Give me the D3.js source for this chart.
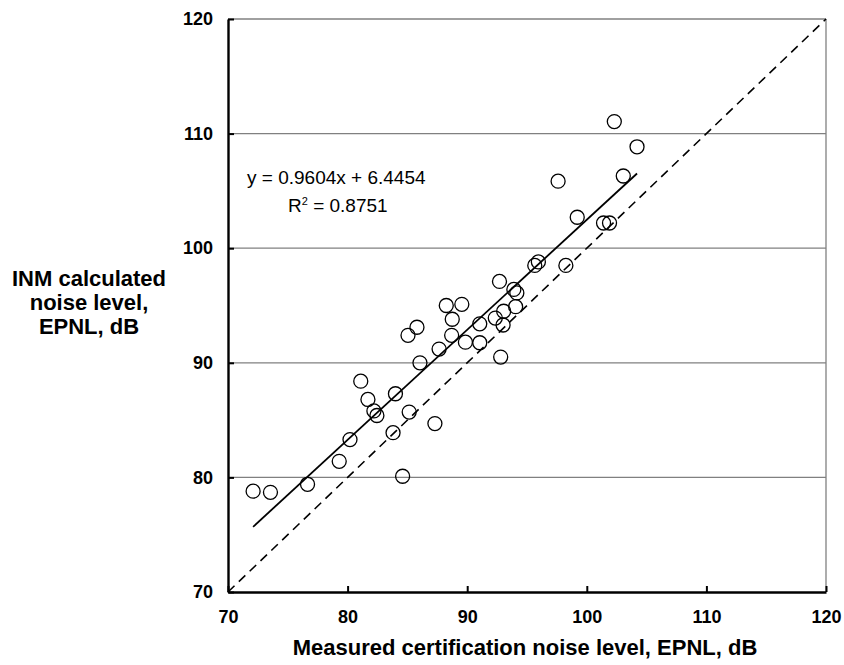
<!DOCTYPE html>
<html>
<head>
<meta charset="utf-8">
<script src="https://cdn.jsdelivr.net/npm/d3@7"></script>
<style>
  html, body { margin: 0; padding: 0; background: #fff; }
  svg { display: block; }
  text { font-family: "Liberation Sans", Arial, sans-serif; }
</style>
</head>
<body>
<svg id="chart" width="844" height="665"></svg>
<script>
// Measured certification EPNL (dB) vs INM calculated EPNL (dB)
const measured = [72.1, 73.55, 76.65, 79.3, 80.2, 81.1, 81.7, 82.2, 82.45, 83.8,
  84.0, 84.6, 85.15, 87.3, 85.05, 85.8, 86.05, 87.65, 88.25, 89.55,
  88.75, 88.7, 89.85, 91.05, 91.05, 92.7, 92.35, 93.05, 93.0, 92.8,
  93.9, 94.15, 94.05, 95.65, 95.95, 98.25, 97.6, 99.2, 101.4, 101.9,
  102.3, 103.05, 104.2];
const calculated = [78.8, 78.7, 79.4, 81.4, 83.3, 88.4, 86.8, 85.8, 85.4, 83.9,
  87.3, 80.1, 85.7, 84.7, 92.4, 93.1, 90.0, 91.2, 95.0, 95.1,
  93.8, 92.4, 91.8, 93.4, 91.75, 97.1, 93.9, 94.5, 93.3, 90.5,
  96.4, 96.1, 94.9, 98.5, 98.8, 98.5, 105.85, 102.7, 102.2, 102.2,
  111.05, 106.3, 108.85];

// Linear fit reported for the data
const slope = 0.9604;
const intercept = 6.4454;
const rSquared = "0.8751";

const xTicks = [70, 80, 90, 100, 110, 120];
const yTicks = [70, 80, 90, 100, 110, 120];
const domain = [70, 120];

const margin = { top: 19, right: 18, bottom: 73, left: 228 };
const W = 844, H = 665;
const svg = d3.select("#chart");

const x = d3.scaleLinear().domain(domain).range([margin.left, W - margin.right]);
const y = d3.scaleLinear().domain(domain).range([H - margin.bottom, margin.top]);

// horizontal gridlines + frame
const grid = svg.append("g");
grid.selectAll("line.h")
  .data(yTicks.filter(d => d > domain[0]))
  .join("line")
  .attr("x1", x(domain[0])).attr("x2", x(domain[1]))
  .attr("y1", d => y(d)).attr("y2", d => y(d))
  .attr("stroke", "#808080").attr("stroke-width", 1.3);
grid.append("line")
  .attr("x1", x(domain[1])).attr("x2", x(domain[1]))
  .attr("y1", y(domain[0])).attr("y2", y(domain[1]))
  .attr("stroke", "#808080").attr("stroke-width", 1.3);

// 1:1 reference line
svg.append("line")
  .attr("x1", x(70)).attr("y1", y(70))
  .attr("x2", x(120)).attr("y2", y(120))
  .attr("stroke", "#000").attr("stroke-width", 1.6)
  .attr("stroke-dasharray", "9,6");

// regression line over the range of measured values
const xMin = d3.min(measured), xMax = d3.max(measured);
svg.append("line")
  .attr("x1", x(xMin)).attr("y1", y(slope * xMin + intercept))
  .attr("x2", x(xMax)).attr("y2", y(slope * xMax + intercept))
  .attr("stroke", "#000").attr("stroke-width", 1.8);

// data points
svg.append("g").selectAll("circle")
  .data(measured.map((m, i) => [m, calculated[i]]))
  .join("circle")
  .attr("cx", d => x(d[0])).attr("cy", d => y(d[1]))
  .attr("r", 7)
  .attr("fill", "none").attr("stroke", "#000").attr("stroke-width", 1.3);

// axes (ticks pointing inward)
const xAxis = d3.axisBottom(x).tickValues(xTicks).tickSizeInner(-6).tickSizeOuter(0).tickPadding(18);
const yAxis = d3.axisLeft(y).tickValues(yTicks).tickSizeInner(-6).tickSizeOuter(0).tickPadding(15);

const gx = svg.append("g").attr("transform", `translate(0,${y(domain[0])})`).call(xAxis);
const gy = svg.append("g").attr("transform", `translate(${x(domain[0])},0)`).call(yAxis);
[gx, gy].forEach(g => {
  g.select(".domain").attr("stroke", "#000").attr("stroke-width", 2.4);
  g.selectAll(".tick line").attr("stroke", "#000").attr("stroke-width", 2);
  g.selectAll(".tick text")
    .attr("fill", "#000")
    .attr("font-size", 18)
    .attr("font-weight", "bold")
    .attr("font-family", "'Liberation Sans', Arial, sans-serif");
});
gx.selectAll(".tick text").attr("dy", "0.71em");

// axis titles
svg.append("text")
  .attr("x", 525)
  .attr("y", 655)
  .attr("text-anchor", "middle")
  .attr("font-size", 22).attr("font-weight", "bold")
  .text("Measured certification noise level, EPNL, dB");

const yTitle = svg.append("text")
  .attr("text-anchor", "middle")
  .attr("font-size", 22).attr("font-weight", "bold");
["INM calculated", "noise level,", "EPNL, dB"].forEach((s, i) => {
  yTitle.append("tspan").attr("x", 89).attr("y", 286 + i * 24).text(s);
});

// regression annotation
svg.append("text")
  .attr("x", 247).attr("y", 184)
  .attr("font-size", 19)
  .text(`y = ${slope}x + ${intercept}`);
const r2 = svg.append("text")
  .attr("x", 288).attr("y", 212)
  .attr("font-size", 19);
r2.append("tspan").text("R");
r2.append("tspan").attr("dy", -7).attr("font-size", 11).text("2");
r2.append("tspan").attr("dy", 7).text(` = ${rSquared}`);
</script>
</body>
</html>
